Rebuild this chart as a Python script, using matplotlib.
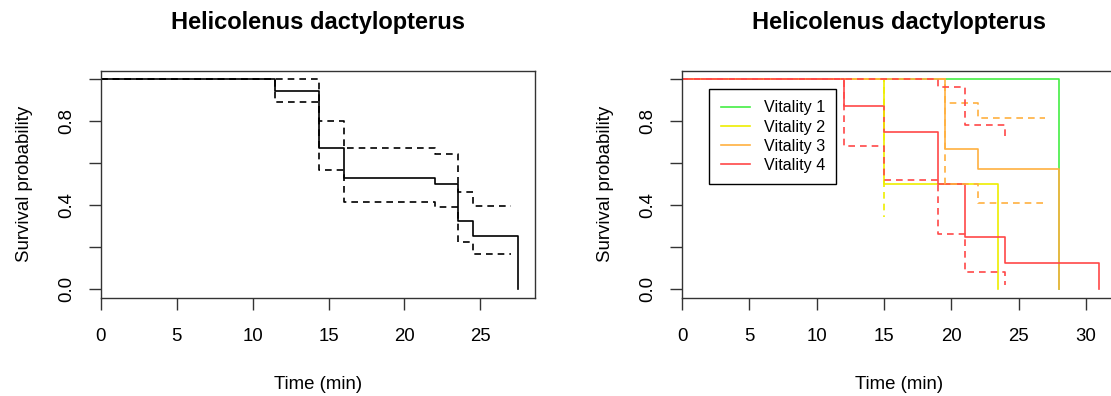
import matplotlib
matplotlib.use("Agg")
import matplotlib.pyplot as plt

plt.rcParams["font.family"] = ["Liberation Sans", "DejaVu Sans"]

TITLE = "Helicolenus dactylopterus"

# left panel: all fish pooled
T_ALL = [0, 11.5, 14.4, 16.0, 22.0, 23.5, 24.5, 27.5]
S_ALL = [1.0, 0.944, 0.671, 0.531, 0.501, 0.324, 0.255, 0.0]
CI_T_ALL = [0, 11.5, 14.4, 16.0, 22.0, 23.5, 24.5]
UP_ALL = [1.0, 1.0, 0.80, 0.671, 0.643, 0.465, 0.397]
LO_ALL = [1.0, 0.892, 0.568, 0.417, 0.39, 0.227, 0.167]
CI_END_ALL = 27.0

# right panel: by vitality class
GROUPS = ["Vitality 1", "Vitality 2", "Vitality 3", "Vitality 4"]
COLORS = ["#44ee44", "#eeee00", "#ffb040", "#ff4848"]
T_GRP = [
    [0, 28.0],
    [0, 15.0, 23.5],
    [0, 19.5, 22.0, 28.0],
    [0, 12.0, 15.0, 19.0, 21.0, 24.0, 31.0],
]
S_GRP = [
    [1.0, 0.0],
    [1.0, 0.5, 0.0],
    [1.0, 0.667, 0.573, 0.0],
    [1.0, 0.875, 0.75, 0.5, 0.25, 0.125, 0.0],
]
# confidence limits (None = no limit drawn); step times, values, end of last step
CI_T_GRP = [None, [0, 15.0], [0, 19.5, 22.0], [0, 12.0, 15.0, 19.0, 21.0, 24.0]]
UP_GRP = [None, [1.0, 1.0], [1.0, 0.886, 0.814], [1.0, 1.0, 1.0, 0.965, 0.782, 0.727]]
LO_GRP = [None, [1.0, 0.346], [1.0, 0.50, 0.41], [1.0, 0.684, 0.52, 0.262, 0.084, 0.02]]
CI_END_GRP = [None, None, 27.0, None]

FS = 13.4
LW = 1.2


def ci_line(ax, t, v, end, color):
    x = list(t)
    y = list(v)
    if end is not None:
        x.append(end)
        y.append(v[-1])
    ax.step(x, y, where="post", color=color, lw=LW, linestyle=(0, (4, 3)))


def style(ax, xmax, xticks):
    ax.set_xlim(0, xmax)
    ax.set_ylim(-0.04, 1.04)
    ax.set_xticks(xticks)
    ax.set_xticklabels([str(v) for v in xticks], fontsize=FS)
    ax.set_yticks([0, 0.2, 0.4, 0.6, 0.8, 1.0])
    ax.set_yticklabels(["0.0", "", "0.4", "", "0.8", ""], fontsize=FS,
                       rotation=90, va="center")
    ax.tick_params(length=8.6, width=1, color="#333333", pad=10)
    ax.tick_params(axis="x", pad=13.5)
    for s in ax.spines.values():
        s.set_color("#333333")
        s.set_linewidth(1)
    ax.set_xlabel("Time (min)", fontsize=FS, labelpad=22)
    ax.set_ylabel("Survival probability", fontsize=FS, labelpad=18)
    ax.set_title(TITLE, fontsize=17, fontweight="bold", pad=30)


fig = plt.figure(figsize=(11.11, 3.96), dpi=100)
ax1 = fig.add_axes([0.0909, 0.2482, 0.3906, 0.5727])
ax2 = fig.add_axes([0.6139, 0.2482, 0.3906, 0.5727])

ax1.step(T_ALL, S_ALL, where="post", color="black", lw=LW)
ci_line(ax1, CI_T_ALL, UP_ALL, CI_END_ALL, "black")
ci_line(ax1, CI_T_ALL, LO_ALL, CI_END_ALL, "black")
style(ax1, 27.5 * 1.04, [0, 5, 10, 15, 20, 25])

for i, name in enumerate(GROUPS):
    ax2.step(T_GRP[i], S_GRP[i], where="post", color=COLORS[i], lw=LW, label=name)
for i in range(len(GROUPS)):
    if CI_T_GRP[i] is None:
        continue
    ci_line(ax2, CI_T_GRP[i], UP_GRP[i], CI_END_GRP[i], COLORS[i])
    ci_line(ax2, CI_T_GRP[i], LO_GRP[i], CI_END_GRP[i], COLORS[i])
style(ax2, 31 * 1.04, [0, 5, 10, 15, 20, 25, 30])

leg = ax2.legend(loc="upper left", bbox_to_anchor=(0.0629, 0.9215), borderaxespad=0,
                 fontsize=11.6, frameon=True, fancybox=False, edgecolor="black",
                 framealpha=1, handlelength=1.8, handletextpad=0.85, borderpad=0.72,
                 labelspacing=0.26)
leg.get_frame().set_linewidth(1)

fig.savefig("out.png", dpi=100, facecolor="white")
